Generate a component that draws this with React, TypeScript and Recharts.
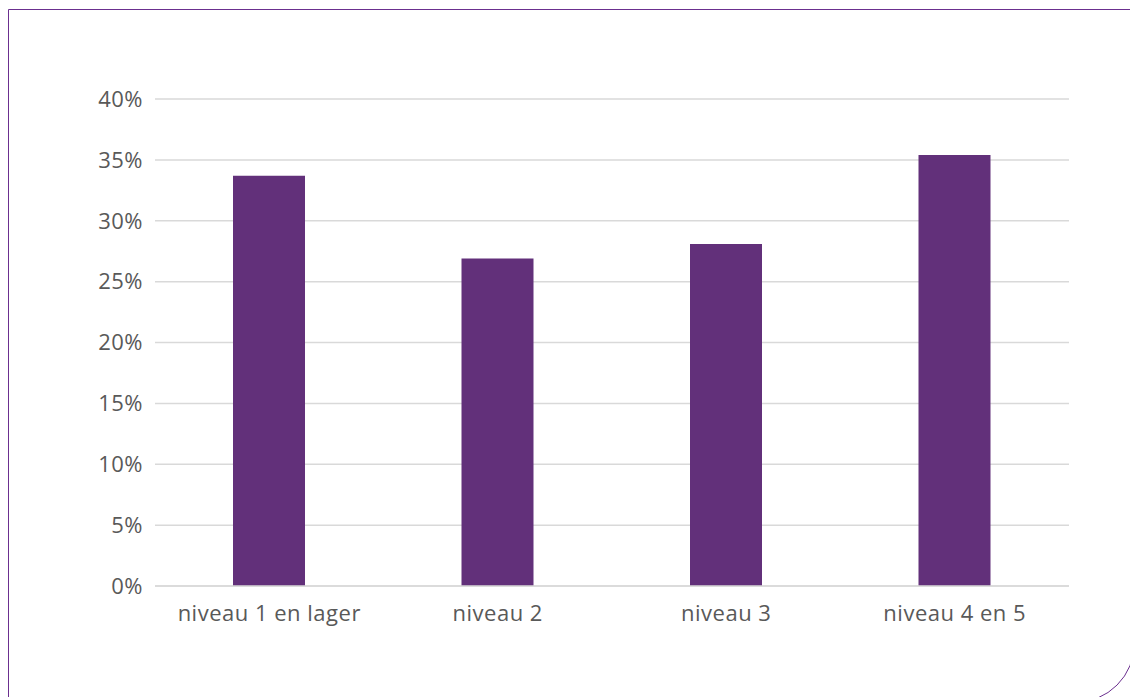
import { Bar, BarChart, CartesianGrid, XAxis, YAxis } from "recharts"

const categories = ["niveau 1 en lager", "niveau 2", "niveau 3", "niveau 4 en 5"]
const shares = [33.7, 26.9, 28.1, 35.4]
const yTicks = [0, 5, 10, 15, 20, 25, 30, 35, 40]

const data = categories.map((name, i) => ({ name, value: shares[i] }))

const purple = "#62307a"
const textColor = "#595959"
const tickStyle = {
  fill: textColor,
  fontSize: 22,
  fontFamily: "'Open Sans', sans-serif",
  letterSpacing: 0.5,
}

export default function App() {
  return (
    <div
      style={{
        position: "fixed",
        left: 0,
        top: 0,
        width: 1130,
        height: 697,
        overflow: "hidden",
        background: "#fff",
      }}
    >
      {/* card frame, only left/top and the rounded bottom-right corner are in view */}
      <div
        style={{
          position: "absolute",
          left: 8,
          top: 9,
          width: 1127,
          height: 694,
          border: `1.5px solid #6b2f8f`,
          borderBottomRightRadius: 60,
          boxSizing: "border-box",
        }}
      />
      <div style={{ position: "absolute", left: 0, top: 0 }}>
        <BarChart
          width={1130}
          height={697}
          data={data}
          margin={{ top: 99, right: 61, bottom: 71, left: 0 }}
        >
          <CartesianGrid vertical={false} stroke="#d9d9d9" strokeWidth={1.5} />
          <XAxis
            dataKey="name"
            axisLine={{ stroke: "#d9d9d9", strokeWidth: 1.5 }}
            tickLine={false}
            tickMargin={13}
            height={40}
            tick={tickStyle}
          />
          <YAxis
            width={155}
            domain={[0, 40]}
            ticks={yTicks}
            axisLine={false}
            tickLine={false}
            tickMargin={6}
            tickFormatter={(v) => `${v}%`}
            tick={tickStyle}
          />
          <Bar dataKey="value" fill={purple} barSize={72} isAnimationActive={false} />
        </BarChart>
      </div>
    </div>
  )
}
